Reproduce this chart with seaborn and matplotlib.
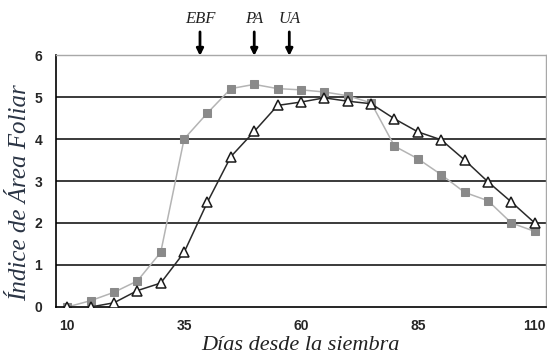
import numpy as np
import pandas as pd
import matplotlib
matplotlib.use("Agg")
import matplotlib.pyplot as plt
import seaborn as sns

# Indice de area foliar vs dias desde la siembra
dias = [10, 15, 20, 25, 30, 35, 40, 45, 50, 55, 60, 65, 70, 75, 80, 85, 90, 95, 100, 105, 110]
iaf_cuadrado = [0, 0.15, 0.35, 0.62, 1.3, 4.0, 4.62, 5.2, 5.3, 5.2, 5.17, 5.12, 5.03, 4.86,
                3.83, 3.53, 3.15, 2.73, 2.53, 2.0, 1.8]
iaf_triangulo = [0, 0, 0.1, 0.39, 0.57, 1.3, 2.5, 3.58, 4.18, 4.8, 4.88, 4.98, 4.9, 4.84,
                 4.48, 4.17, 3.98, 3.5, 2.98, 2.5, 2.0]
etapas = ["EBF", "PA", "UA"]
etapas_dia = [38.4, 50, 57.5]
xticks = [10, 35, 60, 85, 110]

df = pd.DataFrame({"dias": dias, "cuadrado": iaf_cuadrado, "triangulo": iaf_triangulo})

sns.set_style("white")
fig = plt.figure(figsize=(5.47, 3.54), dpi=100)
ax = fig.add_axes([0.1015, 0.1328, 0.8975, 0.7118])

for y in [1, 2, 3, 4, 5]:
    ax.axhline(y, color="#3a3a3a", lw=1.4, zorder=0)

sns.lineplot(data=df, x="dias", y="cuadrado", ax=ax, color="#b4b4b4", lw=1.1,
             marker="s", markersize=5.5, markerfacecolor="#8a8a8a",
             markeredgecolor="#8a8a8a", zorder=2)
sns.lineplot(data=df, x="dias", y="triangulo", ax=ax, color="#2a2a2a", lw=1.1,
             marker="^", markersize=6.5, markerfacecolor="white",
             markeredgecolor="#1a1a1a", markeredgewidth=1.1, zorder=3)

ax.set_xlim(7.5, 112.5)
ax.set_ylim(0, 6)
ax.set_yticks(range(7))
ax.set_xticks(xticks)
ax.set_xticks(np.arange(7.5, 113, 5), minor=True)
ax.tick_params(axis="x", which="major", length=0, pad=9)
ax.tick_params(axis="x", which="minor", direction="out", length=4, width=1, color="black")
ax.tick_params(axis="y", direction="inout", length=7, width=1, color="black", pad=6)
for lab in ax.get_xticklabels() + ax.get_yticklabels():
    lab.set_fontfamily("Liberation Sans")
    lab.set_fontweight("bold")
    lab.set_fontsize(10)

for s in ["left", "bottom"]:
    ax.spines[s].set_color("black")
    ax.spines[s].set_linewidth(1.2)
for s in ["top", "right"]:
    ax.spines[s].set_color("#a8a8a8")
    ax.spines[s].set_linewidth(1.0)

serif = dict(family="Liberation Serif", style="italic")
ax.set_xlabel("Días desde la siembra", fontsize=16, color="#222222", **serif)
ax.set_ylabel("Índice de Área Foliar", fontsize=18, color="#2a3444", **serif)
ax.xaxis.set_label_coords(0.498, -0.152)
ax.yaxis.set_label_coords(-0.072, 0.452)
ax.xaxis.label.set_va("center")
ax.yaxis.label.set_va("center")

for nombre, d in zip(etapas, etapas_dia):
    ax.annotate("", xy=(d, 5.98), xytext=(d, 6.55), xycoords="data",
                arrowprops=dict(arrowstyle="-|>", color="black", lw=2,
                                mutation_scale=10, shrinkA=0, shrinkB=0),
                annotation_clip=False)
    ax.text(d, 6.85, nombre, ha="center", va="center", fontsize=12, color="#222222", **serif)

fig.savefig("out.png", dpi=100)
